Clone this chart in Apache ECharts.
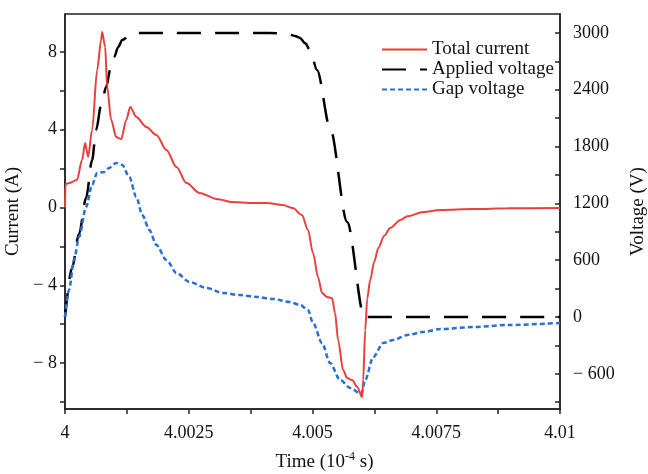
<!DOCTYPE html>
<html>
<head>
<meta charset="utf-8">
<script src="https://cdn.jsdelivr.net/npm/echarts@6/dist/echarts.min.js"></script>
<style>
html,body{margin:0;padding:0;background:#fff;}
#chart{width:648px;height:474px;}
</style>
</head>
<body>
<div id="chart"></div>
<script>
// Total current (A) vs time (10^-4 s)
var currentT = [4.0, 4.00001, 4.00008, 4.00024, 4.000345, 4.000406, 4.000467, 4.000548, 4.000649, 4.00073, 4.00075, 4.000811, 4.000852, 4.000933, 4.001034, 4.001136, 4.001237, 4.001318, 4.00144, 4.001643, 4.001846, 4.002049, 4.002252, 4.002454, 4.002718, 4.003063, 4.003387, 4.003732, 4.004077, 4.004402, 4.004604, 4.004787, 4.004909, 4.00501, 4.005112, 4.005193, 4.005294, 4.005396, 4.005456, 4.005517, 4.005619, 4.0057, 4.005801, 4.005903, 4.006004, 4.006024, 4.006065, 4.006105, 4.006166, 4.006247, 4.006329, 4.00645, 4.006572, 4.006775, 4.006917, 4.007241, 4.007586, 4.008256, 4.008945, 4.01];
var currentI = [0.0, 1.2, 1.26, 1.41, 2.44, 3.32, 2.6, 3.99, 7.07, 8.62, 9.03, 8.26, 6.2, 4.5, 3.63, 3.52, 4.5, 5.17, 4.66, 4.14, 3.73, 2.96, 2.08, 1.26, 0.75, 0.44, 0.28, 0.23, 0.23, 0.13, -0.03, -0.39, -1.16, -2.34, -3.58, -4.4, -4.6, -4.66, -5.43, -6.82, -8.36, -8.77, -8.87, -9.23, -9.75, -8.87, -6.3, -4.7, -3.72, -2.79, -2.08, -1.45, -1.05, -0.64, -0.45, -0.23, -0.13, -0.08, -0.04, -0.03];

// Applied voltage (V)
var appliedT = [4.0, 4.000142, 4.000284, 4.000426, 4.000548, 4.000629, 4.00073, 4.000832, 4.000913, 4.000994, 4.001075, 4.001156, 4.001298, 4.00144, 4.004138, 4.004483, 4.004645, 4.004746, 4.004848, 4.00495, 4.005091, 4.005355, 4.0057, 4.006045, 4.01];
var appliedV = [0, 518, 877, 1257, 1658, 1975, 2239, 2429, 2609, 2746, 2852, 2926, 2968, 3000, 3000, 2990, 2968, 2947, 2894, 2820, 2609, 1996, 1003, 0, 0];

// Gap voltage (V)
var gapT = [4.0, 4.000081, 4.000183, 4.000284, 4.000426, 4.000548, 4.000649, 4.000791, 4.000892, 4.001034, 4.001156, 4.001298, 4.00144, 4.001562, 4.001704, 4.001846, 4.002049, 4.002252, 4.002515, 4.00286, 4.003185, 4.003529, 4.003874, 4.004199, 4.004544, 4.004746, 4.004909, 4.00501, 4.005193, 4.005355, 4.005558, 4.005761, 4.005984, 4.006065, 4.006227, 4.00643, 4.006633, 4.006917, 4.007241, 4.007586, 4.008256, 4.008945, 4.01];
var gapV = [0, 285, 602, 845, 1162, 1394, 1521, 1532, 1574, 1627, 1606, 1479, 1268, 1077, 919, 761, 602, 465, 370, 306, 254, 232, 211, 190, 158, 127, 74, -63, -275, -486, -665, -750, -813, -665, -423, -275, -243, -190, -158, -127, -106, -85, -63];

// Ticks
var xTicks = [4, 4.00125, 4.0025, 4.00375, 4.005, 4.00625, 4.0075, 4.00875, 4.01];
var xLabels = [4, 4.0025, 4.005, 4.0075, 4.01];
var iTicks = [-10, -8, -6, -4, -2, 0, 2, 4, 6, 8];
var iLabels = [-8, -4, 0, 4, 8];
var vTicks = [-900, -600, -300, 0, 300, 600, 900, 1200, 1500, 1800, 2100, 2400, 2700, 3000];
var vLabels = [-600, 0, 600, 1200, 1800, 2400, 3000];

function zip(a, b) { return a.map(function (v, i) { return [v, b[i]]; }); }
function neg(v) { return v < 0 ? '\u2212 ' + Math.abs(v) : String(v); }

var FONT = 'Liberation Serif';
var chart = echarts.init(document.getElementById('chart'));
chart.setOption({
  animation: false,
  textStyle: { fontFamily: FONT, color: '#111' },
  grid: { left: 65, right: 88, top: 14, bottom: 65, show: true, borderColor: '#222', borderWidth: 1.5, backgroundColor: 'transparent', outerBoundsMode: 'none', containLabel: false },
  legend: {
    orient: 'vertical', left: 381, top: 40, itemWidth: 45, itemHeight: 14, itemGap: 1, padding: 0,
    itemStyle: { opacity: 0 },
    textStyle: { fontFamily: FONT, fontSize: 19, color: '#111' },
    data: ['Total current', 'Applied voltage', 'Gap voltage']
  },
  xAxis: {
    type: 'value', min: 4, max: 4.01,
    name: '{a|Time (10}{b|-4}{a| s)}', nameLocation: 'middle', nameGap: 42,
    nameTextStyle: { padding: [0, 0, 0, 24], rich: { a: { fontFamily: FONT, fontSize: 19, color: '#111', lineHeight: 22 }, b: { fontFamily: FONT, fontSize: 12, color: '#111', verticalAlign: 'top', lineHeight: 13 } } },
    axisLine: { show: true, onZero: false, lineStyle: { color: '#222', width: 1.5 } },
    axisTick: { show: true, inside: false, length: 5, lineStyle: { color: '#222', width: 1.5 }, customValues: xTicks },
    axisLabel: { fontSize: 18, color: '#111', margin: 15, customValues: xLabels, formatter: function (v) { return String(Math.round(v * 10000) / 10000); } },
    splitLine: { show: false }
  },
  yAxis: [{
    type: 'value', min: -10.36, max: 9.95, position: 'left',
    name: 'Current (A)', nameLocation: 'middle', nameGap: 37, nameRotate: 90,
    nameTextStyle: { fontFamily: FONT, fontSize: 19, color: '#111' },
    axisLine: { show: true, onZero: false, lineStyle: { color: '#222', width: 1.5 } },
    axisTick: { show: true, inside: false, length: 5, lineStyle: { color: '#222', width: 1.5 }, customValues: iTicks },
    axisLabel: { fontSize: 18, color: '#111', margin: 8, customValues: iLabels, formatter: neg },
    splitLine: { show: false }
  }, {
    type: 'value', min: -972, max: 3200, position: 'right',
    name: 'Voltage (V)', nameLocation: 'middle', nameGap: 69, nameRotate: 90,
    nameTextStyle: { fontFamily: FONT, fontSize: 19, color: '#111' },
    axisLine: { show: true, onZero: false, lineStyle: { color: '#222', width: 1.5 } },
    axisTick: { show: true, inside: true, length: 5, lineStyle: { color: '#222', width: 1.5 }, customValues: vTicks },
    axisLabel: { fontSize: 18, color: '#111', margin: 13, customValues: vLabels, formatter: neg },
    splitLine: { show: false }
  }],
  series: [{
    name: 'Total current', type: 'line', yAxisIndex: 0, symbol: 'none', smooth: 0.3, smoothMonotone: 'x',
    lineStyle: { color: '#e8403f', width: 2 }, itemStyle: { color: '#e8403f' },
    data: zip(currentT, currentI), z: 3
  }, {
    name: 'Applied voltage', type: 'line', yAxisIndex: 1, symbol: 'none', smooth: 0.3, smoothMonotone: 'x',
    lineStyle: { color: '#000', width: 2.5, type: [24, 14] }, itemStyle: { color: '#000' },
    data: zip(appliedT, appliedV), z: 2
  }, {
    name: 'Gap voltage', type: 'line', yAxisIndex: 1, symbol: 'none', smooth: 0.3, smoothMonotone: 'x',
    lineStyle: { color: '#2a6fd4', width: 2.5, type: [5, 3] }, itemStyle: { color: '#2a6fd4' },
    data: zip(gapT, gapV), z: 2
  }]
});
</script>
</body>
</html>
